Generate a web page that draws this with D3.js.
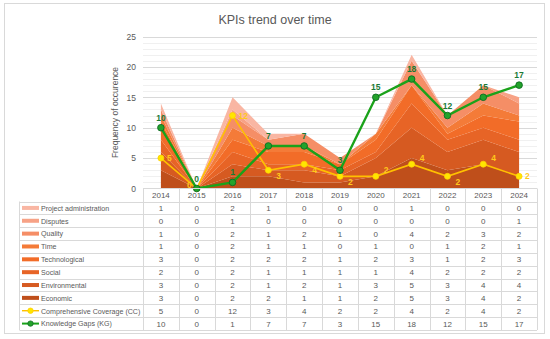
<!DOCTYPE html>
<html>
<head>
<meta charset="utf-8">
<script src="https://cdn.jsdelivr.net/npm/d3@7"></script>
<style>
  body { margin: 0; background: #fff; }
  text { font-family: "Liberation Sans", Arial, sans-serif; }
</style>
</head>
<body>
<svg id="chart" width="550" height="339"></svg>
<script>
// Values
const years = [2014, 2015, 2016, 2017, 2018, 2019, 2020, 2021, 2022, 2023, 2024];

const projectAdmin  = [1, 0, 2, 1, 0, 0, 0, 1, 0, 0, 0];
const disputes      = [0, 0, 1, 0, 0, 0, 0, 0, 0, 0, 1];
const quality       = [1, 0, 2, 1, 2, 1, 0, 4, 2, 3, 2];
const time          = [1, 0, 2, 1, 1, 0, 1, 0, 1, 2, 1];
const technological = [3, 0, 2, 2, 2, 1, 2, 3, 1, 2, 3];
const social        = [2, 0, 2, 1, 1, 1, 1, 4, 2, 2, 2];
const environmental = [3, 0, 2, 1, 2, 1, 3, 5, 3, 4, 4];
const economic      = [3, 0, 2, 2, 1, 1, 2, 5, 3, 4, 2];
const coverage      = [5, 0, 12, 3, 4, 2, 2, 4, 2, 4, 2];
const gaps          = [10, 0, 1, 7, 7, 3, 15, 18, 12, 15, 17];

const yTicks = [0, 5, 10, 15, 20, 25];

// where the yellow labels sit relative to their point
const ccLabelPos = ["r", "l", "r", "br", "br", "br", "ar", "ar", "br", "ar", "r"];

// stacked area series, bottom to top
const areaSeries = [
  {name: "Economic",               values: economic,      color: "#bf4f1b"},
  {name: "Environmental",          values: environmental, color: "#d65a21"},
  {name: "Social",                 values: social,        color: "#e76426"},
  {name: "Technological",          values: technological, color: "#f26c28"},
  {name: "Time",                   values: time,          color: "#f47b38"},
  {name: "Quality",                values: quality,       color: "#f58e66"},
  {name: "Disputes",               values: disputes,      color: "#f7a286"},
  {name: "Project administration", values: projectAdmin,  color: "#f9b6a3"}
];

const svg = d3.select("#chart");
const grey = "#595959";

// outer frame
svg.append("rect")
  .attr("x", 4.5).attr("y", 3.5)
  .attr("width", 540).attr("height", 330)
  .attr("fill", "#fff").attr("stroke", "#d9d9d9");

svg.append("text")
  .attr("x", 275).attr("y", 23.5)
  .attr("text-anchor", "middle")
  .attr("font-size", 12.5)
  .attr("fill", grey)
  .text("KPIs trend over time");

const plot = {left: 143, right: 537, top: 36.5, bottom: 188.5};

const x = d3.scaleBand().domain(years).range([plot.left, plot.right]);
const cx = d => x(d) + x.bandwidth() / 2;
const y = d3.scaleLinear().domain([0, 25]).range([plot.bottom, plot.top]);

// gridlines: minor each unit, major every 5
const g = svg.append("g");
g.selectAll("line.minor")
  .data(d3.range(1, 26).filter(v => v % 5 !== 0))
  .join("line")
  .attr("x1", plot.left).attr("x2", plot.right)
  .attr("y1", d => Math.round(y(d)) + 0.5).attr("y2", d => Math.round(y(d)) + 0.5)
  .attr("stroke", "#f0f0f0");
g.selectAll("line.major")
  .data(yTicks.slice(1))
  .join("line")
  .attr("x1", plot.left).attr("x2", plot.right)
  .attr("y1", d => Math.round(y(d)) + 0.5).attr("y2", d => Math.round(y(d)) + 0.5)
  .attr("stroke", "#d9d9d9");

// y axis labels
const yAxis = d3.axisLeft(y).tickValues(yTicks).tickSize(0).tickPadding(7);
svg.append("g")
  .attr("transform", `translate(${plot.left},0)`)
  .call(yAxis)
  .call(s => s.select(".domain").remove())
  .call(s => s.selectAll("text").attr("fill", grey).attr("font-size", 8.5)
    .style("font-family", "Liberation Sans, Arial, sans-serif"));

svg.append("text")
  .attr("transform", `translate(118,${(plot.top + plot.bottom) / 2}) rotate(-90)`)
  .attr("text-anchor", "middle")
  .attr("font-size", 8.5)
  .attr("fill", grey)
  .text("Frequency of occurence");

// stacked areas
const rows = years.map((yr, i) => {
  const r = {year: yr};
  areaSeries.forEach(s => { r[s.name] = s.values[i]; });
  return r;
});
const stacked = d3.stack().keys(areaSeries.map(s => s.name))(rows);
const area = d3.area()
  .x(d => cx(d.data.year))
  .y0(d => y(d[0]))
  .y1(d => y(d[1]));
svg.append("g").selectAll("path")
  .data(stacked)
  .join("path")
  .attr("d", area)
  .attr("fill", (d, i) => areaSeries[i].color);

// line series
const line = d3.line().x((d, i) => cx(years[i])).y(d => y(d));

svg.append("path")
  .datum(coverage)
  .attr("d", line)
  .attr("fill", "none")
  .attr("stroke", "#ffc000")
  .attr("stroke-width", 1.6);
svg.append("g").selectAll("circle")
  .data(coverage)
  .join("circle")
  .attr("cx", (d, i) => cx(years[i])).attr("cy", d => y(d))
  .attr("r", 3)
  .attr("fill", "#ffe600").attr("stroke", "#ffd000").attr("stroke-width", 0.8);

const offs = {r: [6, 3], l: [-5, -1], br: [8, 9], ar: [8, -3]};
svg.append("g").selectAll("text")
  .data(coverage)
  .join("text")
  .attr("x", (d, i) => cx(years[i]) + offs[ccLabelPos[i]][0])
  .attr("y", (d, i) => y(d) + offs[ccLabelPos[i]][1])
  .attr("text-anchor", (d, i) => ccLabelPos[i] === "l" ? "end" : "start")
  .attr("font-size", 8.5)
  .attr("font-weight", "bold")
  .attr("fill", "#ffc91a")
  .text(d => d);

svg.append("path")
  .datum(gaps)
  .attr("d", line)
  .attr("fill", "none")
  .attr("stroke", "#1aa21a")
  .attr("stroke-width", 2.4);
svg.append("g").selectAll("circle")
  .data(gaps)
  .join("circle")
  .attr("cx", (d, i) => cx(years[i])).attr("cy", d => y(d))
  .attr("r", 3.3)
  .attr("fill", "#22a32a").attr("stroke", "#0f6b22").attr("stroke-width", 0.9);
svg.append("g").selectAll("text")
  .data(gaps)
  .join("text")
  .attr("x", (d, i) => cx(years[i]))
  .attr("y", d => y(d) - 7)
  .attr("text-anchor", "middle")
  .attr("font-size", 8.5)
  .attr("font-weight", "bold")
  .attr("fill", "#1b7a35")
  .text(d => d);

// data table
const rowH = 12.85;
const headTop = plot.bottom, tableTop = plot.bottom + 13;
const labelLeft = 19.5;
const tableRows = [
  {name: "Project administration", values: projectAdmin, kind: "area", color: areaSeries[7].color},
  {name: "Disputes", values: disputes, kind: "area", color: areaSeries[6].color},
  {name: "Quality", values: quality, kind: "area", color: areaSeries[5].color},
  {name: "Time", values: time, kind: "area", color: areaSeries[4].color},
  {name: "Technological", values: technological, kind: "area", color: areaSeries[3].color},
  {name: "Social", values: social, kind: "area", color: areaSeries[2].color},
  {name: "Environmental", values: environmental, kind: "area", color: areaSeries[1].color},
  {name: "Economic", values: economic, kind: "area", color: areaSeries[0].color},
  {name: "Comprehensive Coverage (CC)", values: coverage, kind: "cc"},
  {name: "Knowledge Gaps (KG)", values: gaps, kind: "kg"}
];
const tableBottom = tableTop + rowH * tableRows.length;

const t = svg.append("g");
// horizontal lines
t.append("line").attr("x1", plot.left).attr("x2", plot.right)
  .attr("y1", headTop).attr("y2", headTop).attr("stroke", "#d9d9d9");
d3.range(tableRows.length + 1).forEach(k => {
  const yy = Math.round(tableTop + k * rowH) + 0.5;
  t.append("line").attr("x1", labelLeft).attr("x2", plot.right)
    .attr("y1", yy).attr("y2", yy).attr("stroke", "#d9d9d9");
});
// vertical lines
years.concat(["end"]).forEach((yr, k) => {
  const xx = Math.round(plot.left + k * x.bandwidth()) + 0.5;
  t.append("line").attr("x1", xx).attr("x2", xx)
    .attr("y1", headTop).attr("y2", tableBottom).attr("stroke", "#d9d9d9");
});
t.append("line").attr("x1", labelLeft).attr("x2", labelLeft)
  .attr("y1", tableTop).attr("y2", tableBottom).attr("stroke", "#d9d9d9");

// header years
t.selectAll("text.yr")
  .data(years)
  .join("text")
  .attr("x", d => cx(d)).attr("y", headTop + 9.8)
  .attr("text-anchor", "middle")
  .attr("font-size", 8)
  .attr("fill", grey)
  .text(d => d);

tableRows.forEach((r, k) => {
  const mid = tableTop + k * rowH + rowH / 2;
  if (r.kind === "area") {
    t.append("rect").attr("x", 22).attr("y", mid - 2)
      .attr("width", 17).attr("height", 4).attr("fill", r.color);
  } else {
    const c = r.kind === "cc" ? "#ffc000" : "#1aa21a";
    t.append("line").attr("x1", 22).attr("x2", 39).attr("y1", mid).attr("y2", mid)
      .attr("stroke", c).attr("stroke-width", r.kind === "cc" ? 1.4 : 2);
    t.append("circle").attr("cx", 30.5).attr("cy", mid).attr("r", 2.7)
      .attr("fill", r.kind === "cc" ? "#ffe600" : "#22a32a")
      .attr("stroke", r.kind === "cc" ? "#ffd000" : "#0f6b22").attr("stroke-width", 0.8);
  }
  t.append("text").attr("x", 41).attr("y", mid + 2.8)
    .attr("font-size", 7.1).attr("fill", grey).text(r.name);
  t.selectAll(null)
    .data(r.values)
    .join("text")
    .attr("x", (d, i) => cx(years[i])).attr("y", mid + 3)
    .attr("text-anchor", "middle")
    .attr("font-size", 8)
    .attr("fill", grey)
    .text(d => d);
});
</script>
</body>
</html>
